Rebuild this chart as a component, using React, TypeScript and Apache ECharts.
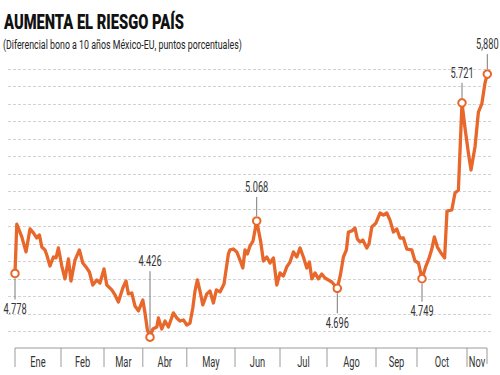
import React, { useEffect, useRef } from "react";
import * as echarts from "echarts";

// x = trading-day position, y = spread (percentage points)
const days = [
  0, 0.9, 3.4, 5.5, 7.5, 9.2, 10.9, 12.2, 13.4, 15, 15.9, 17.5, 19.2, 20.5, 21.7, 23.4, 25, 26.7, 28, 30,
  32.2, 33.9, 35.5, 37.2, 38.9, 40.9, 42.5, 44.5, 45.9, 48.4, 50, 51.7, 53.9, 55.5, 56.7, 58.4, 60, 61.7, 63.9, 65,
  66.2, 67.5, 68.9, 70.9, 71.7, 73.4, 75, 76.7, 79.2, 80.9, 82.5, 84.2, 85.9, 87.5, 88.9, 90, 91.2, 92.5, 93.9, 95.9,
  97.5, 99.2, 100.7, 102.5, 104.5, 106.7, 107.5, 109.2, 110.9, 112.5, 113.9, 115, 116.2, 117.5, 119, 120.85, 122.8, 124.2, 125.9, 127.5,
  129.2, 130.9, 132.5, 134.2, 135.9, 137.5, 139.2, 140.9, 142.5, 144.2, 145.9, 147.2, 148.4, 150, 151.7, 153.4, 155, 156.7, 158.4, 159.7,
  161.15, 162.7, 164.2, 165.7, 166.7, 168.4, 170, 171.2, 172.5, 173.9, 175.9, 177, 178.4, 180.5, 182.5, 184.2, 185.9, 187.5, 189.2, 190.9,
  192.5, 194.2, 195.9, 198.4, 200, 201.7, 203.5, 205.3, 206.9, 208.4, 209.7, 211.2, 213, 214.8, 216, 218.4, 220, 221.7, 223.5, 225,
  226.7, 228, 230, 231.7, 233.4, 235, 236.15,
];
const values = [
  4.778, 5.051, 4.98, 4.897, 5.024, 5.002, 4.974, 4.991, 4.924, 4.908, 4.88, 4.819, 4.869, 4.864, 4.919, 4.819, 4.748, 4.858, 4.736, 4.852,
  4.908, 4.836, 4.814, 4.786, 4.714, 4.742, 4.725, 4.803, 4.714, 4.687, 4.659, 4.62, 4.698, 4.736, 4.665, 4.67, 4.598, 4.571, 4.631, 4.56,
  4.466, 4.426, 4.471, 4.482, 4.532, 4.471, 4.515, 4.482, 4.56, 4.532, 4.515, 4.521, 4.493, 4.504, 4.587, 4.681, 4.742, 4.681, 4.604, 4.665,
  4.681, 4.615, 4.687, 4.676, 4.72, 4.886, 4.908, 4.913, 4.897, 4.852, 4.808, 4.908, 4.886, 4.93, 4.957, 5.068, 4.957, 4.847, 4.869, 4.836,
  4.864, 4.714, 4.781, 4.764, 4.814, 4.841, 4.897, 4.869, 4.919, 4.869, 4.808, 4.841, 4.748, 4.781, 4.748, 4.775, 4.753, 4.742, 4.731, 4.714,
  4.696, 4.77, 4.869, 4.908, 5.007, 5.013, 5.029, 4.968, 4.952, 4.963, 4.919, 4.941, 5.035, 5.057, 5.112, 5.101, 5.112, 5.073, 5.007, 5.024,
  4.974, 4.974, 4.913, 4.908, 4.847, 4.836, 4.749, 4.814, 4.858, 4.913, 4.98, 4.924, 4.891, 4.864, 5.123, 5.129, 5.223, 5.239, 5.721, 5.582,
  5.444, 5.35, 5.477, 5.67, 5.715, 5.83, 5.88,
];

const monthNames = ["Ene", "Feb", "Mar", "Abr", "May", "Jun", "Jul", "Ago", "Sep", "Oct", "Nov"];
const monthBounds = [0, 23, 44.5, 63.9, 85.9, 110, 132.5, 156, 180.5, 201, 226, 236];

const annotDays = [0, 67.5, 120.85, 161.15, 203.5, 223.5, 236.15];
const annotValues = [4.778, 4.426, 5.068, 4.696, 4.749, 5.721, 5.88];
const annotLabels = ["4.778", "4.426", "5.068", "4.696", "4.749", "5.721", "5,880"];
const annotAbove = [false, true, true, false, false, true, true];
const annotLead = [26, 66, 24, 25, 23, 20, 20];

const TITLE = "AUMENTA EL RIESGO PAÍS";
const SUBTITLE = "(Diferencial bono a 10 años México-EU, puntos porcentuales)";

const ORANGE = "#E8672A";
const FONT = "Roboto, 'Noto Sans', sans-serif";

export default function App() {
  const ref = useRef<HTMLDivElement>(null);
  useEffect(() => {
    const chart = echarts.init(ref.current!, null, { renderer: "svg" });
    const lineData = days.map((d, i) => [d, values[i]]);
    const monthData = monthNames.map((_, i) => [monthBounds[i], monthBounds[i + 1]]);
    const annotData = annotDays.map((d, i) => [d, annotValues[i]]);
    const Y_MIN = 4.366;
    const Y_MAX = 5.908;

    chart.setOption({
      animation: false,
      backgroundColor: "#ffffff",
      grid: [
        { left: 8, right: 7, top: 69, bottom: 27 },
        { left: 8, right: 7, top: 69, bottom: 43.5 },
      ],
      xAxis: [
        { type: "value", gridIndex: 0, min: -3.5, max: 239, show: false },
        { type: "value", gridIndex: 1, min: 0, max: 1, show: false },
      ],
      yAxis: [
        { type: "value", gridIndex: 0, min: Y_MIN, max: Y_MAX, show: false },
        {
          type: "value",
          gridIndex: 1,
          min: 0,
          max: 15,
          interval: 1,
          inverse: true,
          axisLine: { show: false },
          axisTick: { show: false },
          axisLabel: { show: false },
          splitLine: { show: true, lineStyle: { color: "#d2d2d2", type: [3, 2], width: 1 } },
        },
      ],
      graphic: [
        {
          type: "text",
          x: 4,
          y: 21,
          scaleX: 0.7,
          style: {
            text: TITLE,
            font: `900 21px ${FONT}`,
            fill: "#111",
            align: "left",
            verticalAlign: "middle",
            textAlign: "left",
            textVerticalAlign: "middle",
          },
        },
        {
          type: "text",
          x: 3,
          y: 45,
          scaleX: 0.68,
          style: {
            text: SUBTITLE,
            font: `13px ${FONT}`,
            fill: "#222",
            align: "left",
            verticalAlign: "middle",
            textAlign: "left",
            textVerticalAlign: "middle",
          },
        },
      ],
      series: [
        {
          type: "custom",
          xAxisIndex: 0,
          yAxisIndex: 0,
          silent: true,
          z: 2,
          data: monthData,
          renderItem: (params: any, api: any) => {
            const i = params.dataIndex;
            const xs = api.coord([api.value(0), Y_MIN])[0];
            const xe = api.coord([api.value(1), Y_MIN])[0];
            const yb = params.coordSys.y + params.coordSys.height;
            const children: any[] = [
              { type: "line", shape: { x1: xs, y1: yb, x2: xe, y2: yb }, style: { stroke: "#9a9a9a", lineWidth: 1 } },
              { type: "line", shape: { x1: xs, y1: yb, x2: xs, y2: yb + 19 }, style: { stroke: "#9a9a9a", lineWidth: 1 } },
              {
                type: "text",
                x: (xs + xe) / 2,
                y: yb + 14,
                scaleX: 0.62,
                style: {
                  text: monthNames[i],
                  x: 0,
                  y: 0,
                  font: `15px ${FONT}`,
                  fill: "#333",
                  align: "center",
                  verticalAlign: "middle",
                  textAlign: "center",
                  textVerticalAlign: "middle",
                },
              },
            ];
            if (i === monthNames.length - 1) {
              children.push({ type: "line", shape: { x1: xe, y1: yb, x2: xe, y2: yb + 16 }, style: { stroke: "#9a9a9a", lineWidth: 1 } });
            }
            return { type: "group", children };
          },
        },
        {
          type: "line",
          xAxisIndex: 0,
          yAxisIndex: 0,
          data: lineData,
          showSymbol: false,
          symbol: "none",
          smooth: false,
          z: 3,
          lineStyle: { color: ORANGE, width: 3.3, join: "round", cap: "round" },
        },
        {
          type: "custom",
          xAxisIndex: 0,
          yAxisIndex: 0,
          silent: true,
          z: 5,
          data: annotData,
          renderItem: (params: any, api: any) => {
            const i = params.dataIndex;
            const p = api.coord([api.value(0), api.value(1)]);
            const dir = annotAbove[i] ? -1 : 1;
            const lead = annotLead[i];
            return {
              type: "group",
              children: [
                {
                  type: "line",
                  shape: { x1: p[0], y1: p[1] + dir * 5, x2: p[0], y2: p[1] + dir * lead },
                  style: { stroke: "#7a7a7a", lineWidth: 1 },
                },
                {
                  type: "circle",
                  shape: { cx: p[0], cy: p[1], r: 3.8 },
                  style: { fill: "#ffffff", stroke: ORANGE, lineWidth: 2 },
                },
                {
                  type: "text",
                  x: p[0],
                  y: p[1] + dir * (lead + 10),
                  scaleX: 0.66,
                  style: {
                    text: annotLabels[i],
                    x: 0,
                    y: 0,
                    font: `14px ${FONT}`,
                    fill: "#333",
                    align: "center",
                    verticalAlign: "middle",
                    textAlign: "center",
                    textVerticalAlign: "middle",
                  },
                },
              ],
            };
          },
        },
      ],
    });
    return () => chart.dispose();
  }, []);
  return <div ref={ref} style={{ position: "fixed", left: 0, top: 0, width: 500, height: 375 }} />;
}
